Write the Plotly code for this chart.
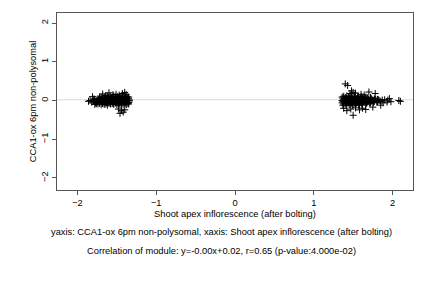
import plotly.graph_objects as go

# Left cluster (x ~ -1.85 .. -1.33)
left_x = [
    -1.78, -1.74, -1.70, -1.66, -1.62, -1.58, -1.54, -1.50, -1.46, -1.42, -1.38, -1.35,
    -1.76, -1.72, -1.68, -1.64, -1.60, -1.56, -1.52, -1.48, -1.44, -1.40, -1.36,
    -1.82, -1.77, -1.72, -1.68, -1.63, -1.59, -1.55, -1.51, -1.47, -1.43, -1.39, -1.35,
    -1.80, -1.76, -1.71, -1.67, -1.62, -1.58, -1.54, -1.50, -1.46, -1.42, -1.38, -1.34,
    -1.84, -1.80, -1.75, -1.71, -1.67, -1.62, -1.58, -1.53, -1.49, -1.45, -1.41, -1.37, -1.34,
    -1.78, -1.73, -1.69, -1.64, -1.60, -1.56, -1.51, -1.47, -1.43, -1.39, -1.35,
    -1.79, -1.74, -1.70, -1.65, -1.61, -1.57, -1.52, -1.48, -1.44, -1.40, -1.36,
    -1.70, -1.64, -1.60, -1.56, -1.52, -1.47, -1.43, -1.39, -1.35,
    -1.72, -1.66, -1.62, -1.58, -1.54, -1.49, -1.45, -1.41, -1.37,
    -1.81, -1.68, -1.60, -1.55, -1.47, -1.43, -1.40, -1.38, -1.64, -1.51,
    -1.48, -1.44, -1.42, -1.46, -1.40, -1.86,
]
left_y = [
    -0.10, -0.09, -0.11, -0.10, -0.12, -0.09, -0.10, -0.11, -0.12, -0.10, -0.11, -0.09,
    -0.08, -0.07, -0.08, -0.09, -0.07, -0.08, -0.07, -0.09, -0.08, -0.07, -0.08,
    -0.04, -0.06, -0.05, -0.07, -0.05, -0.04, -0.06, -0.05, -0.07, -0.04, -0.06, -0.05,
    -0.02, -0.03, -0.02, -0.01, -0.03, -0.02, -0.03, -0.01, -0.02, -0.03, -0.02, -0.01,
    0.00, 0.01, -0.01, 0.02, 0.00, 0.01, -0.01, 0.02, 0.00, 0.01, 0.02, -0.01, 0.01,
    0.03, 0.02, 0.03, 0.04, 0.03, 0.02, 0.04, 0.03, 0.04, 0.03, 0.04,
    0.04, 0.05, 0.06, 0.05, 0.07, 0.06, 0.05, 0.07, 0.06, 0.08, 0.06,
    0.08, 0.08, 0.09, 0.08, 0.09, 0.08, 0.09, 0.08, 0.09,
    0.09, 0.10, 0.11, 0.10, 0.12, 0.10, 0.11, 0.12, 0.10,
    0.10, 0.17, 0.20, 0.15, 0.14, 0.18, 0.21, 0.15, 0.13, 0.16,
    -0.22, -0.25, -0.30, -0.33, -0.24, -0.02,
]

# Right cluster (x ~ 1.36 .. 2.10)
right_x = [
    1.37, 1.41, 1.45, 1.49, 1.53, 1.57, 1.61, 1.66,
    1.38, 1.42, 1.46, 1.50, 1.54, 1.58, 1.62, 1.67, 1.71,
    1.36, 1.40, 1.44, 1.48, 1.52, 1.56, 1.60, 1.64, 1.68, 1.72, 1.76, 1.80,
    1.37, 1.41, 1.45, 1.49, 1.53, 1.57, 1.61, 1.65, 1.69, 1.73, 1.77, 1.81, 1.85,
    1.36, 1.39, 1.43, 1.47, 1.51, 1.55, 1.59, 1.63, 1.67, 1.71, 1.75, 1.79, 1.83, 1.87,
    1.38, 1.42, 1.46, 1.50, 1.54, 1.58, 1.62, 1.66, 1.70, 1.74, 1.78, 1.82,
    1.37, 1.41, 1.45, 1.49, 1.53, 1.57, 1.61, 1.65, 1.69, 1.73, 1.77, 1.81,
    1.36, 1.40, 1.44, 1.48, 1.52, 1.56, 1.60, 1.64, 1.68,
    1.38, 1.42, 1.47, 1.52, 1.56, 1.61, 1.66, 1.72,
    1.90, 1.93, 1.96, 1.98, 2.08, 2.10, 1.94, 1.88,
    1.40, 1.43, 1.48, 1.50, 1.53, 1.46, 1.70, 1.78, 1.60, 1.64,
    1.38, 1.42, 1.47, 1.50, 1.53, 1.58, 1.62, 1.66, 1.75, 1.85,
]
right_y = [
    -0.12, -0.13, -0.11, -0.12, -0.10, -0.12, -0.11, -0.09,
    -0.09, -0.08, -0.09, -0.10, -0.08, -0.09, -0.08, -0.07, -0.07,
    -0.06, -0.07, -0.05, -0.06, -0.07, -0.05, -0.06, -0.05, -0.04, -0.06, -0.05, -0.04,
    -0.03, -0.02, -0.03, -0.02, -0.03, -0.02, -0.03, -0.02, -0.03, -0.02, -0.02, -0.03, -0.02,
    0.00, -0.01, 0.01, 0.00, 0.02, -0.01, 0.01, 0.00, 0.01, -0.01, 0.00, 0.01, 0.00, 0.01,
    0.03, 0.03, 0.04, 0.03, 0.04, 0.03, 0.03, 0.04, 0.03, 0.02, 0.03, 0.02,
    0.06, 0.05, 0.07, 0.06, 0.05, 0.07, 0.06, 0.05, 0.04, 0.05, 0.04, 0.03,
    0.09, 0.08, 0.09, 0.08, 0.09, 0.08, 0.08, 0.07, 0.07,
    0.11, 0.12, 0.10, 0.11, 0.12, 0.10, 0.09, 0.08,
    0.02, -0.04, 0.05, -0.03, 0.00, -0.02, 0.01, -0.06,
    0.43, 0.39, 0.25, 0.21, 0.19, 0.18, 0.22, 0.18, 0.16, 0.14,
    -0.20, -0.26, -0.22, -0.38, -0.19, -0.24, -0.20, -0.23, -0.17, -0.12,
]

slope = -0.00
intercept = 0.02
x_range = [-2.26, 2.26]
y_range = [-2.31, 2.26]
tick_vals = [-2, -1, 0, 1, 2]

x_title = "Shoot apex inflorescence (after bolting)"
y_title = "CCA1-ox 6pm non-polysomal"
caption1 = "yaxis: CCA1-ox 6pm non-polysomal, xaxis: Shoot apex inflorescence (after bolting)"
caption2 = "Correlation of module: y=-0.00x+0.02, r=0.65 (p-value:4.000e-02)"

FONT = "Liberation Sans, Arial, Helvetica, sans-serif"
FS = 9.3

fig = go.Figure()
fig.add_trace(go.Scatter(
    x=x_range, y=[slope * v + intercept for v in x_range],
    mode="lines", line=dict(color="#d9d9d9", width=1.2),
    hoverinfo="skip", showlegend=False,
))
marker = dict(symbol="cross-thin", size=5, line=dict(color="black", width=1), color="black")
fig.add_trace(go.Scatter(x=left_x, y=left_y, mode="markers", marker=marker, showlegend=False))
fig.add_trace(go.Scatter(x=right_x, y=right_y, mode="markers", marker=marker, showlegend=False))

axis_common = dict(
    showgrid=False, zeroline=False, showline=True, mirror=True,
    linecolor="#555555", linewidth=1, ticks="outside", ticklen=4,
    tickcolor="#555555", tickfont=dict(size=FS, color="black", family=FONT),
    tickvals=tick_vals,
)

fig.update_layout(
    width=432, height=288,
    margin=dict(l=57, r=19, t=13, b=98),
    paper_bgcolor="white", plot_bgcolor="white",
    font=dict(family=FONT, size=FS, color="black"),
    xaxis=dict(range=x_range, title=dict(text=x_title, font=dict(size=FS), standoff=3), **axis_common),
    yaxis=dict(range=y_range, tickangle=-90, title=dict(text=y_title, font=dict(size=FS), standoff=2), **axis_common),
    annotations=[
        dict(text=caption1, xref="paper", yref="paper", x=0.463, y=-0.237,
             xanchor="center", yanchor="middle", showarrow=False, font=dict(size=FS)),
        dict(text=caption2, xref="paper", yref="paper", x=0.463, y=-0.345,
             xanchor="center", yanchor="middle", showarrow=False, font=dict(size=FS)),
    ],
)

fig.write_html("out.html")
